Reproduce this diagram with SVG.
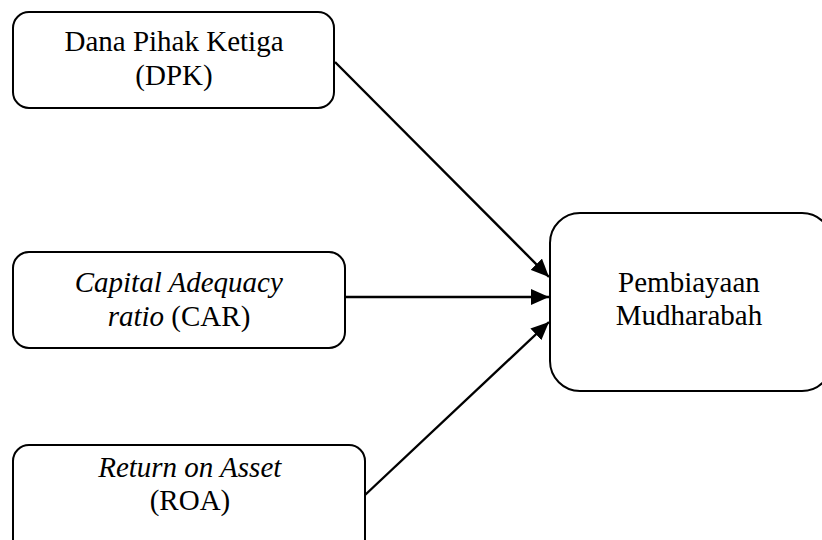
<svg xmlns="http://www.w3.org/2000/svg" width="822" height="540" viewBox="0 0 822 540">
<defs>
<marker id="ah" markerUnits="userSpaceOnUse" markerWidth="20" markerHeight="16" refX="18" refY="8" orient="auto">
<path d="M0,0 L18,8 L0,16 Z" fill="#000"/>
</marker>
</defs>
<rect width="822" height="540" fill="#fff"/>
<g id="connectors" stroke="#000" stroke-width="2.4" fill="none">
<line x1="335" y1="62" x2="549" y2="277" marker-end="url(#ah)"/>
<line x1="345" y1="297" x2="549" y2="297" marker-end="url(#ah)"/>
<line x1="365" y1="495" x2="549" y2="322" marker-end="url(#ah)"/>
</g>
<g id="dpk" font-family="Times New Roman, Tinos, Liberation Serif, serif" font-size="29">
<rect x="13" y="12" width="321" height="96" rx="16" fill="#fff" stroke="#000" stroke-width="2"/>
<text x="64.5" y="51">Dana Pihak Ketiga</text>
<text x="135.3" y="85">(DPK)</text>
</g>
<g id="car" font-family="Times New Roman, Tinos, Liberation Serif, serif" font-size="29">
<rect x="13" y="252" width="332" height="96" rx="16" fill="#fff" stroke="#000" stroke-width="2"/>
<text x="74.7" y="292" font-style="italic">Capital Adequacy</text>
<text x="107.7" y="326"><tspan font-style="italic">ratio</tspan> (CAR)</text>
</g>
<g id="roa" font-family="Times New Roman, Tinos, Liberation Serif, serif" font-size="29">
<rect x="13" y="445" width="352" height="110" rx="16" fill="#fff" stroke="#000" stroke-width="2"/>
<text x="98.2" y="477" font-style="italic">Return on Asset</text>
<text x="149.7" y="510">(ROA)</text>
</g>
<g id="pembiayaan" font-family="Times New Roman, Tinos, Liberation Serif, serif" font-size="29">
<rect x="550" y="213" width="282" height="178" rx="30" fill="#fff" stroke="#000" stroke-width="2"/>
<text x="618.1" y="292">Pembiayaan</text>
<text x="615.7" y="325">Mudharabah</text>
</g>
</svg>
